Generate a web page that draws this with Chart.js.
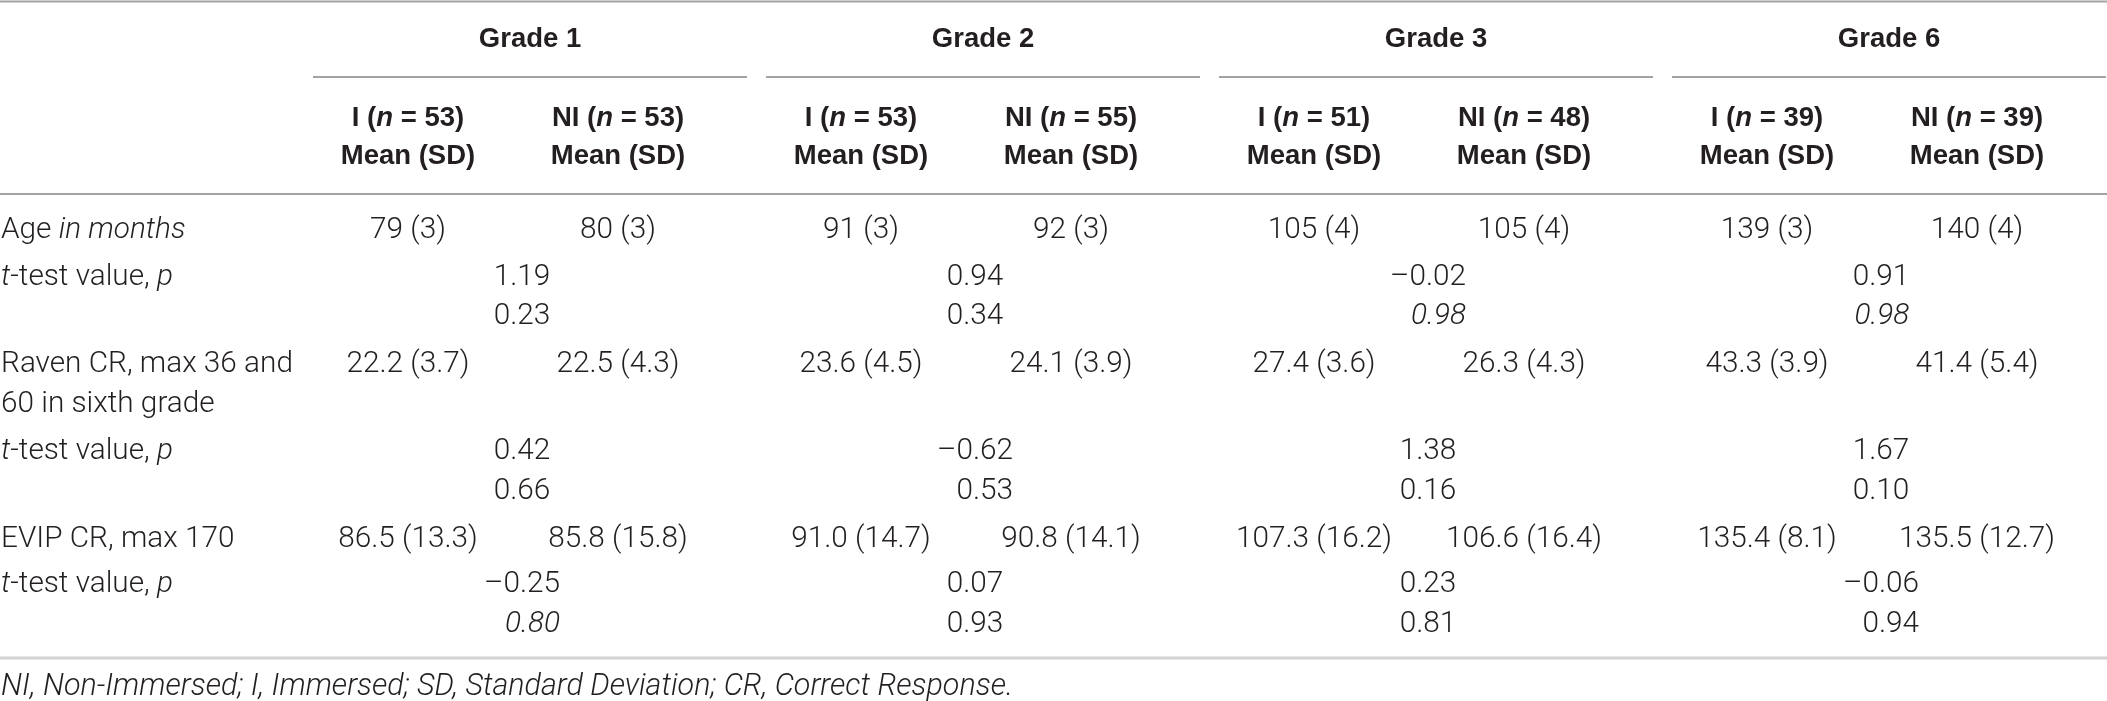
<!DOCTYPE html>
<html><head><meta charset="utf-8">
<script src="https://cdn.jsdelivr.net/npm/chart.js@4.4.1/dist/chart.umd.min.js"></script>
<style>html,body{margin:0;padding:0;background:#fff;overflow:hidden}canvas{display:block}</style>
</head><body>
<canvas id="c" width="2107" height="701"></canvas>
<script>
// ===== DATA =====
const grades = ['Grade 1', 'Grade 2', 'Grade 3', 'Grade 6'];
const nImmersed = [53, 53, 51, 39];
const nNonImmersed = [53, 55, 48, 39];
const ageMeanI = [79, 91, 105, 139];
const ageSdI = [3, 3, 4, 3];
const ageMeanNI = [80, 92, 105, 140];
const ageSdNI = [3, 3, 4, 4];
const ageT = [1.19, 0.94, -0.02, 0.91];
const ageP = [0.23, 0.34, 0.98, 0.98];
const ravenMeanI = [22.2, 23.6, 27.4, 43.3];
const ravenSdI = [3.7, 4.5, 3.6, 3.9];
const ravenMeanNI = [22.5, 24.1, 26.3, 41.4];
const ravenSdNI = [4.3, 3.9, 4.3, 5.4];
const ravenT = [0.42, -0.62, 1.38, 1.67];
const ravenP = [0.66, 0.53, 0.16, 0.10];
const evipMeanI = [86.5, 91.0, 107.3, 135.4];
const evipSdI = [13.3, 14.7, 16.2, 8.1];
const evipMeanNI = [85.8, 90.8, 106.6, 135.5];
const evipSdNI = [15.8, 14.1, 16.4, 12.7];
const evipT = [-0.25, 0.07, 0.23, -0.06];
const evipP = [0.80, 0.93, 0.81, 0.94];
const rowLabelAge = ['Age ', 'in months'];
const rowLabelT = ['t', '-test value, ', 'p'];
const rowLabelRaven = ['Raven CR, max 36 and', '60 in sixth grade'];
const rowLabelEvip = 'EVIP CR, max 170';
const colGroupLabel = ['I', 'NI'];
const colStatLabel = 'Mean (SD)';
const footnote = 'NI, Non-Immersed; I, Immersed; SD, Standard Deviation; CR, Correct Response.';

// ===== LAYOUT / STYLE (not data) =====
const BODY_FONT = 'Roboto, "Liberation Sans", Arial, sans-serif';
const BODY_WEIGHT = 300;
const BOLD_FONT = '"Liberation Sans", Arial, Helvetica, sans-serif';
const BOLD_SZ = 27.5;
const TXT = '#231f20';
const italicP = { age: [false, false, true, true], raven: [false, false, false, false], evip: [true, false, false, false] };
const X = { labelX: 1, g0: 530, gStep: 453, iOff: -122, niOff: 88, tOff: -8, ulHalf: 217, W: 2107,
            calibWidth: 292, footWidth: 1012 };
const Y = { grade: 47, ul: 77, nRow: 126, mean: 164, headRule: 194, age: 238, ageT: 285, ageP: 324,
            raven1: 372, raven2: 412, ravenT: 459, ravenP: 499, evip: 547, evipT: 592, evipP: 632,
            bottomRule: 658, foot: 695, top: 1.5 };

// calibrate body font size so glyph widths match the reference
const mctx = document.createElement('canvas').getContext('2d');
mctx.font = BODY_WEIGHT + ' 100px ' + BODY_FONT;
const BODY_SZ = 100 * X.calibWidth / mctx.measureText(rowLabelRaven[0]).width;
mctx.font = 'italic ' + BODY_WEIGHT + ' 100px ' + BODY_FONT;
const FOOT_SZ = 100 * X.footWidth / mctx.measureText(footnote).width;

const gc = g => X.g0 + g * X.gStep;
const fmt1 = v => v.toFixed(1);
const fmtT = v => (v < 0 ? '\u2013' : '') + Math.abs(v).toFixed(2);
const R = (t, s) => ({ t, s: s || '' });

// ===== build cells =====
const cells = [];
function cell(x, y, runs, align, extra) { cells.push(Object.assign({ x, y, runs, align }, extra || {})); }

grades.forEach((g, i) => {
  const c = gc(i);
  cell(c, Y.grade, [R(g, 'b')], 'center');
  cell(c + X.iOff, Y.nRow, [R(colGroupLabel[0] + ' (', 'b'), R('n', 'bi'), R(' = ' + nImmersed[i] + ')', 'b')], 'center');
  cell(c + X.niOff, Y.nRow, [R(colGroupLabel[1] + ' (', 'b'), R('n', 'bi'), R(' = ' + nNonImmersed[i] + ')', 'b')], 'center');
  cell(c + X.iOff, Y.mean, [R(colStatLabel, 'b')], 'center');
  cell(c + X.niOff, Y.mean, [R(colStatLabel, 'b')], 'center');

  cell(c + X.iOff, Y.age, [R(ageMeanI[i] + ' (' + ageSdI[i] + ')')], 'center');
  cell(c + X.niOff, Y.age, [R(ageMeanNI[i] + ' (' + ageSdNI[i] + ')')], 'center');
  cell(c + X.tOff, Y.ageT, [R(fmtT(ageT[i]))], 'block', { pair: 'a' + i });
  cell(c + X.tOff, Y.ageP, [R(ageP[i].toFixed(2), italicP.age[i] ? 'i' : '')], 'block', { pair: 'a' + i });

  cell(c + X.iOff, Y.raven1, [R(fmt1(ravenMeanI[i]) + ' (' + fmt1(ravenSdI[i]) + ')')], 'center');
  cell(c + X.niOff, Y.raven1, [R(fmt1(ravenMeanNI[i]) + ' (' + fmt1(ravenSdNI[i]) + ')')], 'center');
  cell(c + X.tOff, Y.ravenT, [R(fmtT(ravenT[i]))], 'block', { pair: 'r' + i });
  cell(c + X.tOff, Y.ravenP, [R(ravenP[i].toFixed(2), italicP.raven[i] ? 'i' : '')], 'block', { pair: 'r' + i });

  cell(c + X.iOff, Y.evip, [R(fmt1(evipMeanI[i]) + ' (' + fmt1(evipSdI[i]) + ')')], 'center');
  cell(c + X.niOff, Y.evip, [R(fmt1(evipMeanNI[i]) + ' (' + fmt1(evipSdNI[i]) + ')')], 'center');
  cell(c + X.tOff, Y.evipT, [R(fmtT(evipT[i]))], 'block', { pair: 'e' + i });
  cell(c + X.tOff, Y.evipP, [R(evipP[i].toFixed(2), italicP.evip[i] ? 'i' : '')], 'block', { pair: 'e' + i });
});
cell(X.labelX, Y.age, [R(rowLabelAge[0]), R(rowLabelAge[1], 'i')], 'left');
[Y.ageT, Y.ravenT, Y.evipT].forEach(y => cell(X.labelX, y, [R(rowLabelT[0], 'i'), R(rowLabelT[1]), R(rowLabelT[2], 'i')], 'left'));
cell(X.labelX, Y.raven1, [R(rowLabelRaven[0])], 'left');
cell(X.labelX, Y.raven2, [R(rowLabelRaven[1])], 'left');
cell(X.labelX, Y.evip, [R(rowLabelEvip)], 'left');
cell(X.labelX, Y.foot, [R(footnote, 'if')], 'left');

// ===== rule lines =====
function rule(x1, x2, y, color, w) {
  return { type: 'line', data: [{ x: x1, y }, { x: x2, y }], borderColor: color, borderWidth: w,
           pointRadius: 0, clip: false, fill: false, tension: 0 };
}
const rules = [
  rule(0, X.W, Y.top, '#a3a3a3', 2),
  rule(0, X.W, Y.headRule, '#a3a3a3', 2),
  rule(0, X.W, Y.bottomRule, '#d2d2d2', 3)
];
grades.forEach((g, i) => rules.push(rule(gc(i) - X.ulHalf, gc(i) + X.ulHalf, Y.ul, '#a3a3a3', 2)));

function fontFor(s) {
  const b = s.indexOf('b') >= 0, it = s.indexOf('i') >= 0, f = s.indexOf('f') >= 0;
  if (b) return (it ? 'italic ' : '') + 'bold ' + BOLD_SZ + 'px ' + BOLD_FONT;
  return (it ? 'italic ' : '') + BODY_WEIGHT + ' ' + (f ? FOOT_SZ : BODY_SZ).toFixed(2) + 'px ' + BODY_FONT;
}
function runsWidth(ctx, runs) {
  let w = 0; runs.forEach(r => { ctx.font = fontFor(r.s); w += ctx.measureText(r.t).width; }); return w;
}

const textPlugin = {
  id: 'tableText',
  afterDatasetsDraw(chart) {
    const ctx = chart.ctx;
    const dsIndex = chart.data.datasets.findIndex(d => d.label === 'cells');
    const meta = chart.getDatasetMeta(dsIndex);
    const data = chart.data.datasets[dsIndex].data;
    ctx.save();
    ctx.fillStyle = TXT;
    ctx.textBaseline = 'alphabetic';
    ctx.textAlign = 'left';
    const pairW = {};
    data.forEach(d => { if (d.pair) { pairW[d.pair] = Math.max(pairW[d.pair] || 0, runsWidth(ctx, d.runs)); } });
    meta.data.forEach((el, i) => {
      const d = data[i];
      const w = runsWidth(ctx, d.runs);
      let x = el.x;
      if (d.align === 'center') x = el.x - w / 2;
      else if (d.align === 'block') x = el.x + pairW[d.pair] / 2 - w;
      d.runs.forEach(r => { ctx.font = fontFor(r.s); ctx.fillText(r.t, x, el.y); x += ctx.measureText(r.t).width; });
    });
    ctx.restore();
  }
};

function draw() {
  new Chart(document.getElementById('c'), {
    type: 'scatter',
    data: {
      datasets: rules.concat([{ label: 'cells', type: 'scatter', data: cells, pointRadius: 0, showLine: false }])
    },
    options: {
      responsive: false, animation: false, devicePixelRatio: 1, events: [],
      layout: { padding: 0 },
      scales: {
        x: { type: 'linear', min: 0, max: X.W, display: false },
        y: { type: 'linear', min: 0, max: 701, reverse: true, display: false }
      },
      plugins: { legend: { display: false }, tooltip: { enabled: false } }
    },
    plugins: [textPlugin]
  });
}
draw();
</script>
</body></html>
